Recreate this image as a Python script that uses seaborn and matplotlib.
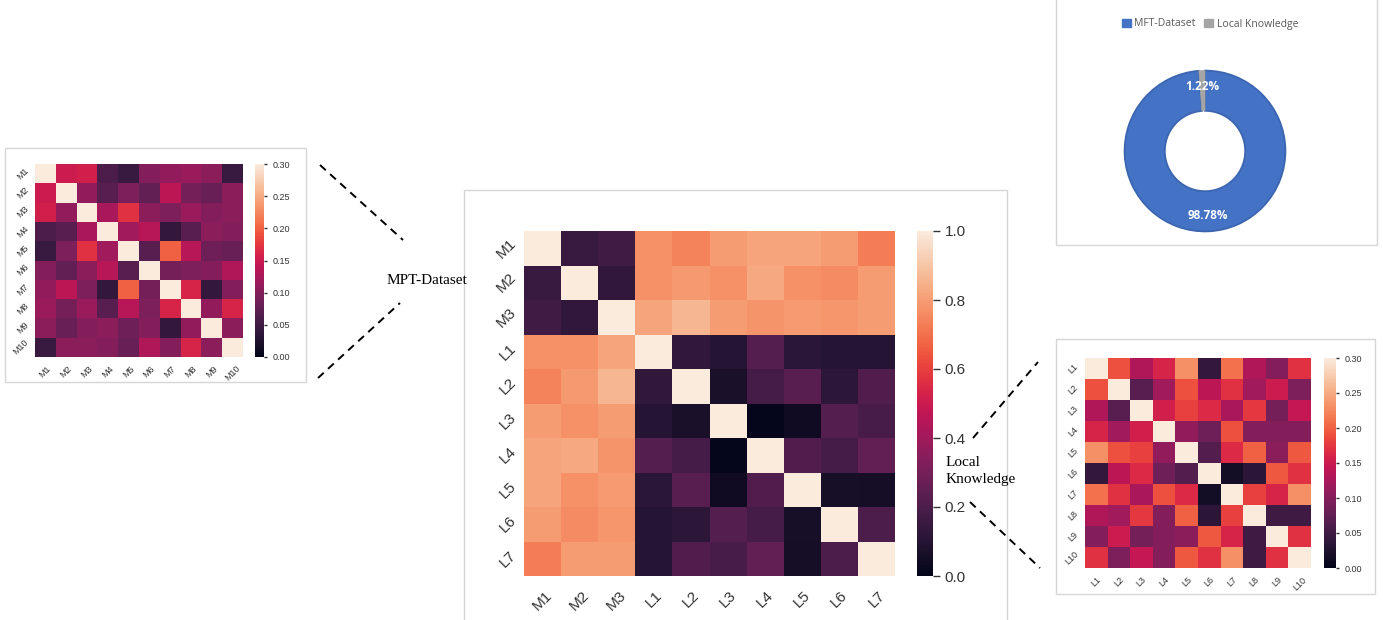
import numpy as np
import pandas as pd
import matplotlib
matplotlib.use("Agg")
import matplotlib.pyplot as plt
import seaborn as sns
from matplotlib.patches import Rectangle, Patch
from matplotlib.lines import Line2D

# ---- data ----
main_labels = ["M1", "M2", "M3", "L1", "L2", "L3", "L4", "L5", "L6", "L7"]
main_corr = [
    [1.00, 0.15, 0.17, 0.77, 0.74, 0.80, 0.82, 0.82, 0.80, 0.73],
    [0.15, 1.00, 0.13, 0.77, 0.79, 0.77, 0.83, 0.77, 0.76, 0.80],
    [0.17, 0.13, 1.00, 0.82, 0.86, 0.80, 0.78, 0.795, 0.785, 0.80],
    [0.77, 0.77, 0.82, 1.00, 0.13, 0.10, 0.22, 0.11, 0.10, 0.10],
    [0.74, 0.79, 0.86, 0.13, 1.00, 0.07, 0.18, 0.23, 0.12, 0.21],
    [0.80, 0.77, 0.80, 0.10, 0.07, 1.00, 0.01, 0.04, 0.22, 0.19],
    [0.82, 0.83, 0.78, 0.22, 0.18, 0.01, 1.00, 0.21, 0.18, 0.25],
    [0.82, 0.77, 0.795, 0.11, 0.23, 0.04, 0.21, 1.00, 0.06, 0.055],
    [0.80, 0.76, 0.785, 0.10, 0.12, 0.22, 0.18, 0.06, 1.00, 0.20],
    [0.73, 0.80, 0.80, 0.10, 0.21, 0.19, 0.25, 0.055, 0.20, 1.00],
]

mpt_labels = ["M1", "M2", "M3", "M4", "M5", "M6", "M7", "M8", "M9", "M10"]
mpt_corr = [
    [1.00, 0.15, 0.155, 0.06, 0.045, 0.10, 0.11, 0.115, 0.105, 0.045],
    [0.15, 1.00, 0.11, 0.07, 0.095, 0.075, 0.14, 0.09, 0.08, 0.105],
    [0.155, 0.11, 1.00, 0.125, 0.17, 0.105, 0.095, 0.115, 0.10, 0.105],
    [0.06, 0.07, 0.125, 1.00, 0.12, 0.135, 0.04, 0.07, 0.105, 0.10],
    [0.045, 0.095, 0.17, 0.12, 1.00, 0.07, 0.20, 0.135, 0.085, 0.08],
    [0.10, 0.075, 0.105, 0.135, 0.07, 1.00, 0.09, 0.095, 0.10, 0.13],
    [0.11, 0.14, 0.095, 0.04, 0.20, 0.09, 1.00, 0.16, 0.04, 0.10],
    [0.115, 0.09, 0.115, 0.07, 0.135, 0.095, 0.16, 1.00, 0.11, 0.16],
    [0.105, 0.08, 0.10, 0.105, 0.085, 0.10, 0.04, 0.11, 1.00, 0.105],
    [0.045, 0.105, 0.105, 0.10, 0.08, 0.13, 0.10, 0.16, 0.105, 1.00],
]

local_labels = ["L1", "L2", "L3", "L4", "L5", "L6", "L7", "L8", "L9", "L10"]
local_corr = [
    [1.00, 0.19, 0.13, 0.16, 0.23, 0.04, 0.21, 0.13, 0.10, 0.17],
    [0.19, 1.00, 0.07, 0.12, 0.19, 0.14, 0.17, 0.12, 0.15, 0.095],
    [0.13, 0.07, 1.00, 0.155, 0.18, 0.165, 0.125, 0.175, 0.09, 0.145],
    [0.16, 0.12, 0.155, 1.00, 0.11, 0.085, 0.19, 0.10, 0.10, 0.10],
    [0.23, 0.19, 0.18, 0.11, 1.00, 0.065, 0.165, 0.20, 0.105, 0.195],
    [0.04, 0.14, 0.165, 0.085, 0.065, 1.00, 0.015, 0.035, 0.195, 0.17],
    [0.21, 0.17, 0.125, 0.19, 0.165, 0.015, 1.00, 0.18, 0.16, 0.23],
    [0.13, 0.12, 0.175, 0.10, 0.20, 0.035, 0.18, 1.00, 0.05, 0.05],
    [0.10, 0.15, 0.09, 0.10, 0.105, 0.195, 0.16, 0.05, 1.00, 0.17],
    [0.17, 0.095, 0.145, 0.10, 0.195, 0.17, 0.23, 0.05, 0.17, 1.00],
]

share_labels = ["MFT-Dataset", "Local Knowledge"]
share_values = [98.78, 1.22]
share_colors = ["#4472C4", "#A5A5A5"]

# ---- layout helpers (pixel boxes -> figure fractions) ----
W, H = 1383, 620
fig = plt.figure(figsize=(W / 100, H / 100), dpi=100)
fig.patch.set_facecolor("white")


def box(x0, y0, x1, y1):
    return [x0 / W, 1 - y1 / H, (x1 - x0) / W, (y1 - y0) / H]


def frame(x0, y0, x1, y1):
    fig.add_artist(Rectangle((x0 / W, 1 - y1 / H), (x1 - x0) / W, (y1 - y0) / H,
                             transform=fig.transFigure, facecolor="white",
                             edgecolor="#D6D6D6", linewidth=1.0, zorder=0))


def dashed(x0, y0, x1, y1):
    fig.add_artist(Line2D([x0 / W, x1 / W], [1 - y0 / H, 1 - y1 / H],
                          transform=fig.transFigure, color="black",
                          linewidth=1.4, linestyle=(0, (4, 3)), zorder=5))


frame(5, 148, 306, 382)
frame(464, 190, 1007, 640)
frame(1056, 339, 1375, 594)
frame(1056, -5, 1377, 245)

sans = ["Liberation Sans", "DejaVu Sans"]


def draw_heatmap(data, labels, hm_box, cb_box, vmax, tick_size, cb_size, cb_len, pad):
    ax = fig.add_axes(box(*hm_box))
    cax = fig.add_axes(box(*cb_box))
    df = pd.DataFrame(data, index=labels, columns=labels)
    sns.heatmap(df, ax=ax, cbar_ax=cax, cmap="rocket", vmin=0, vmax=vmax)
    ax.tick_params(length=0, labelsize=tick_size)
    ax.tick_params(axis="x", pad=pad)
    for t in ax.get_xticklabels() + ax.get_yticklabels():
        t.set_rotation(45)
        t.set_fontfamily(sans)
        t.set_color("#333333")
    for t in ax.get_xticklabels():
        t.set_ha("center")
        t.set_va("top")
    for t in ax.get_yticklabels():
        t.set_va("center")
    cax.tick_params(labelsize=cb_size, length=cb_len, width=1, colors="#333333")
    for t in cax.get_yticklabels():
        t.set_fontfamily(sans)
    return ax


# left small heatmap (MPT)
draw_heatmap(mpt_corr, mpt_labels, (35, 164, 243, 357), (255, 164, 264, 357),
             0.30, 6.5, 6.5, 2.5, 5)
# centre heatmap
draw_heatmap(main_corr, main_labels, (524, 231, 895, 576), (917, 231, 933, 576),
             1.0, 11, 11, 5, 9)
# right small heatmap (Local)
draw_heatmap(local_corr, local_labels, (1085, 358, 1311, 568), (1324, 358, 1336, 568),
             0.30, 6.5, 6.5, 2.5, 5)

# donut
pax = fig.add_axes(box(1123, 69, 1287, 233))
wedges, _, autotexts = pax.pie(
    share_values, colors=share_colors, startangle=90, counterclock=False,
    autopct="%.2f%%", pctdistance=0.8,
    wedgeprops=dict(width=0.5, edgecolor="#3B65B0", linewidth=1.3),
    textprops=dict(color="white", fontsize=8.5, fontweight="bold", family="Open Sans"))
# keep the thin grey slice visible on top of the blue outline
wedges[1].set_edgecolor("#A5A5A5")
wedges[1].set_linewidth(0.5)
wedges[1].set_zorder(3)
for t in autotexts:
    t.set_zorder(4)
pax.set_xlim(-1.02, 1.02)
pax.set_ylim(-1.02, 1.02)

handles = [Patch(facecolor=c, edgecolor=c) for c in share_colors]
fig.legend(handles, share_labels, loc="center", bbox_to_anchor=(1210 / W, 1 - 24 / H),
           ncol=2, frameon=False, handlelength=0.9, handleheight=0.9,
           handletextpad=0.3, columnspacing=0.8, prop={"family": "Open Sans", "size": 7.5},
           labelcolor="#595959")

# connectors and labels
dashed(320, 165, 403, 240)
dashed(318, 378, 400, 303)
dashed(973, 438, 1038, 362)
dashed(970, 502, 1040, 568)

serif = ["Liberation Serif", "DejaVu Serif"]
fig.text(387 / W, 1 - 281 / H, "MPT-Dataset", family=serif, fontsize=11,
         ha="left", va="center", zorder=6)
fig.text(946 / W, 1 - 471 / H, "Local\nKnowledge", family=serif, fontsize=11,
         ha="left", va="center", linespacing=1.35, zorder=6)

fig.savefig("out.png", dpi=100)
